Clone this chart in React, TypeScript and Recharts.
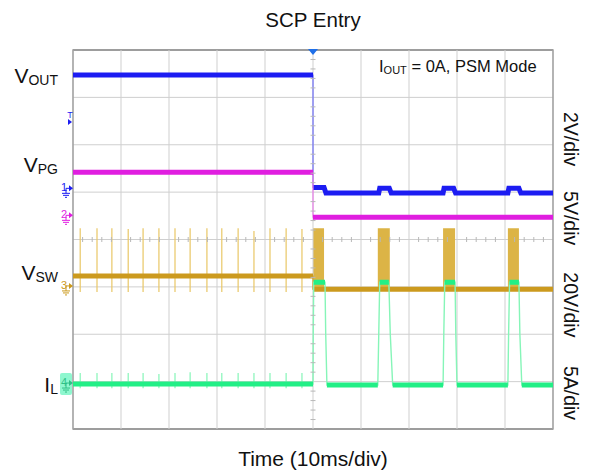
import React from 'react';
import { ComposedChart, Line, Area, Scatter, XAxis, YAxis, CartesianGrid, ReferenceArea, ReferenceLine } from 'recharts';

const FONT = '"Liberation Sans", Arial, sans-serif';

const BLUE = '#1c1cf2';
const MAGENTA = '#e01ee0';
const GOLD = '#cc9a1e';
const GOLD_LIGHT = '#e9c766';
const GOLD_FILL = '#dcb446';
const GREEN = '#22ef86';
const GREEN_LIGHT = '#86f5b8';

// time in ms (10 ms/div), values in screen divisions (0 = bottom, 8 = top)
const timeGrid = [-50, -40, -30, -20, -10, 0, 10, 20, 30, 40, 50];
const divGrid = [0, 1, 2, 3, 4, 5, 6, 7, 8];

const leftLabels = [
  { main: 'V', sub: 'OUT' },
  { main: 'V', sub: 'PG' },
  { main: 'V', sub: 'SW' },
  { main: 'I', sub: 'L' },
];
const leftLabelPos = [7.45, 5.57, 3.29, 0.93];
const scaleLabels = ['2V/div', '5V/div', '20V/div', '5A/div'];
const scaleLabelPos = [6.12, 4.45, 2.62, 0.76];

// v = full trace (thin), w = settled levels (thick), null at fast edges
const vout = [
  { t: -50, v: 7.47, w: 7.47 },
  { t: 0, v: 7.47, w: 7.47 },
  { t: 0, v: 6.3, w: null },
  { t: 0, v: 5.1, w: 5.1 },
  { t: 2.3, v: 5.1, w: 5.1 },
  { t: 2.7, v: 4.98, w: 4.98 },
  { t: 13.7, v: 4.98, w: 4.98 },
  { t: 13.9, v: 5.08, w: 5.08 },
  { t: 15.9, v: 5.08, w: 5.08 },
  { t: 16.3, v: 4.98, w: 4.98 },
  { t: 27.1, v: 4.98, w: 4.98 },
  { t: 27.3, v: 5.08, w: 5.08 },
  { t: 29.3, v: 5.08, w: 5.08 },
  { t: 29.7, v: 4.98, w: 4.98 },
  { t: 40.6, v: 4.98, w: 4.98 },
  { t: 40.8, v: 5.08, w: 5.08 },
  { t: 42.9, v: 5.08, w: 5.08 },
  { t: 43.3, v: 4.98, w: 4.98 },
  { t: 50, v: 4.98, w: 4.98 },
];

const vpg = [
  { t: -50, v: 5.42, w: 5.42 },
  { t: 0, v: 5.42, w: 5.42 },
  { t: 0, v: 5.0, w: null },
  { t: 0, v: 4.47, w: 4.47 },
  { t: 50, v: 4.47, w: 4.47 },
];

const vsw = [
  { t: -50, v: 3.23, w: 3.23 },
  { t: 0, v: 3.23, w: 3.23 },
  { t: 0, v: 3.1, w: null },
  { t: 0, v: 2.95, w: 2.95 },
  { t: 50, v: 2.95, w: 2.95 },
];

// switching bursts after SCP entry (top of burst envelope)
const vswBursts = [
  { t: 0, v: 4.24 },
  { t: 2.3, v: 4.24 },
  { t: 2.3, v: 2.95 },
  { t: 13.5, v: 2.95 },
  { t: 13.5, v: 4.24 },
  { t: 16.0, v: 4.24 },
  { t: 16.0, v: 2.95 },
  { t: 27.1, v: 2.95 },
  { t: 27.1, v: 4.24 },
  { t: 29.6, v: 4.24 },
  { t: 29.6, v: 2.95 },
  { t: 40.6, v: 2.95 },
  { t: 40.6, v: 4.24 },
  { t: 42.9, v: 4.24 },
  { t: 42.9, v: 2.95 },
];

// PSM pulses before the short
const spikeTimes = [-48.5, -45.0, -41.9, -38.5, -35.4, -32.1, -28.75, -25.6, -22.1, -19.0, -15.6, -12.3, -8.96, -5.6, -2.3];
const swSpikeTops = [4.24, 4.24, 4.24, 4.22, 4.24, 4.24, 4.24, 4.24, 4.24, 4.24, 4.24, 4.18, 4.24, 4.24, 4.22];
const swSpikeBottoms = [2.89, 2.89, 2.89, 2.89, 2.89, 2.89, 2.89, 2.89, 2.89, 2.89, 2.89, 2.89, 2.89, 2.89, 2.89];
const ilSpikeTops = [1.18, 1.18, 1.18, 1.18, 1.18, 1.16, 1.18, 1.2, 1.18, 1.18, 1.18, 1.18, 1.18, 1.18, 1.18];
const ilSpikeBottoms = [0.86, 0.86, 0.86, 0.86, 0.86, 0.86, 0.86, 0.86, 0.86, 0.86, 0.86, 0.86, 0.86, 0.86, 0.86];

const il = [
  { t: -50, v: 0.95, w: 0.95 },
  { t: 0, v: 0.95, w: 0.95 },
  { t: 0.05, v: 2.0, w: null },
  { t: 0.15, v: 3.1, w: 3.1 },
  { t: 2.5, v: 3.1, w: 3.1 },
  { t: 2.65, v: 2.0, w: null },
  { t: 2.9, v: 0.93, w: 0.93 },
  { t: 13.5, v: 0.93, w: 0.93 },
  { t: 13.7, v: 2.0, w: null },
  { t: 13.9, v: 3.1, w: 3.1 },
  { t: 15.8, v: 3.1, w: 3.1 },
  { t: 16.1, v: 2.0, w: null },
  { t: 16.6, v: 0.93, w: 0.93 },
  { t: 27.1, v: 0.93, w: 0.93 },
  { t: 27.25, v: 2.0, w: null },
  { t: 27.45, v: 3.1, w: 3.1 },
  { t: 29.6, v: 3.1, w: 3.1 },
  { t: 29.75, v: 2.0, w: null },
  { t: 30.0, v: 0.93, w: 0.93 },
  { t: 40.6, v: 0.93, w: 0.93 },
  { t: 40.75, v: 2.0, w: null },
  { t: 40.95, v: 3.1, w: 3.1 },
  { t: 42.9, v: 3.1, w: 3.1 },
  { t: 43.1, v: 2.0, w: null },
  { t: 43.5, v: 0.93, w: 0.93 },
  { t: 50, v: 0.93, w: 0.93 },
];

const channelMarks = [
  { t: -50, v: 6.48, label: 'T', color: BLUE, ground: false },
  { t: -50, v: 5.08, label: '1', color: BLUE, ground: true },
  { t: -50, v: 4.51, label: '2', color: MAGENTA, ground: true },
  { t: -50, v: 3.02, label: '3', color: GOLD, ground: true },
  { t: -50, v: 0.97, label: '4', color: '#2fbf86', ground: true, box: true },
];

const hMinor = Array.from({ length: 49 }, (_, i) => -48 + i * 2).filter((t) => t % 10 !== 0).map((t) => ({ t, v: 4 }));
const vMinor = Array.from({ length: 39 }, (_, i) => 0.2 + i * 0.2).filter((v) => Math.abs(v - Math.round(v)) > 0.01).map((v) => ({ t: 0, v }));

const spikeRows = (tops: number[], bottoms: number[]) =>
  spikeTimes.flatMap((t, i) => [
    { t, s: bottoms[i] },
    { t, s: tops[i] },
    { t, s: null },
  ]);

// left axis carries both the channel names (left) and the scale labels (right edge)
const LabelTick = (props: any) => {
  const value = props.payload.value;
  const i = leftLabelPos.indexOf(value);
  if (i >= 0) {
    const lab = leftLabels[i];
    return (
      <text x={58} y={props.y + 7} textAnchor="end" fontFamily={FONT} fill="#111">
        <tspan fontSize={21}>{lab.main}</tspan>
        <tspan fontSize={14} dy={2}>{lab.sub}</tspan>
      </text>
    );
  }
  const j = scaleLabelPos.indexOf(value);
  if (j < 0) return null;
  return (
    <text
      transform={`translate(571, ${props.y}) rotate(90)`}
      textAnchor="middle"
      dominantBaseline="central"
      fontFamily={FONT}
      fontSize={19.5}
      fill="#111"
    >
      {scaleLabels[j]}
    </text>
  );
};

const HTick = (p: any) => <line x1={p.cx} x2={p.cx} y1={p.cy - 2.5} y2={p.cy + 2.5} stroke="#b8b8b8" strokeWidth={1} />;
const VTick = (p: any) => <line x1={p.cx - 2.5} x2={p.cx + 2.5} y1={p.cy} y2={p.cy} stroke="#b8b8b8" strokeWidth={1} />;

const TrigMark = (p: any) => (
  <path d={`M${p.cx - 5},${p.cy - 1} L${p.cx + 5},${p.cy - 1} L${p.cx},${p.cy + 5} Z`} fill="#1f6fe8" />
);

const ChannelMark = (p: any) => {
  const { cx, cy, payload } = p;
  const c = payload.color;
  if (!payload.ground) {
    return (
      <g>
        <text x={cx - 3} y={cy - 4} fontSize={9} fontFamily={FONT} fill={c} textAnchor="middle">T</text>
        <path d={`M${cx - 5},${cy - 3} L${cx - 1},${cy} L${cx - 5},${cy + 3} Z`} fill={c} />
      </g>
    );
  }
  return (
    <g>
      {payload.box && <rect x={cx - 13} y={cy - 10} width={12} height={22} rx={2} fill="#8ff7cf" />}
      <text x={cx - 9} y={cy + 3} fontSize={11} fontFamily={FONT} fill={c} textAnchor="middle">{payload.label}</text>
      <line x1={cx - 7} x2={cx - 2} y1={cy} y2={cy} stroke={c} strokeWidth={1} />
      <path d={`M${cx - 4},${cy - 3} L${cx},${cy} L${cx - 4},${cy + 3} Z`} fill={c} />
      <line x1={cx - 7} x2={cx - 7} y1={cy} y2={cy + 5} stroke={c} strokeWidth={1} />
      <line x1={cx - 11} x2={cx - 3} y1={cy + 5} y2={cy + 5} stroke={c} strokeWidth={1} />
      <line x1={cx - 10} x2={cx - 4} y1={cy + 7} y2={cy + 7} stroke={c} strokeWidth={1} />
      <line x1={cx - 8} x2={cx - 6} y1={cy + 9} y2={cy + 9} stroke={c} strokeWidth={1} />
    </g>
  );
};

export default function App() {
  return (
    <div style={{ position: 'absolute', left: 0, top: 0, width: 593, height: 472, background: '#fff', fontFamily: FONT }}>
      <div style={{ position: 'absolute', left: 73, width: 480, top: 8, textAlign: 'center', fontSize: 20.5, color: '#111' }}>
        SCP Entry
      </div>
      <ComposedChart width={593} height={472} margin={{ top: 50, right: 40, bottom: 0, left: 0 }}>
        <XAxis
          type="number"
          dataKey="t"
          domain={[-50, 50]}
          ticks={timeGrid}
          tick={false}
          tickLine={false}
          axisLine={false}
          height={43}
        />
        <YAxis
          yAxisId="left"
          type="number"
          domain={[0, 8]}
          ticks={[...leftLabelPos, ...scaleLabelPos]}
          interval={0}
          width={73}
          tick={<LabelTick />}
          tickLine={false}
          axisLine={false}
        />
        <CartesianGrid
          yAxisId="left"
          stroke="#cfcfcf"
          strokeWidth={1}
          vertical={false}
          horizontalValues={divGrid}
        />
        {timeGrid.map((t) => (
          <ReferenceLine key={t} yAxisId="left" x={t} stroke="#cfcfcf" strokeWidth={1} />
        ))}
        <Scatter yAxisId="left" data={hMinor} dataKey="v" shape={<HTick />} isAnimationActive={false} />
        <Scatter yAxisId="left" data={vMinor} dataKey="v" shape={<VTick />} isAnimationActive={false} />
        <ReferenceArea yAxisId="left" x1={-50} x2={50} y1={0} y2={8} fill="none" stroke="#555" strokeWidth={1.2} />

        <Line yAxisId="left" data={spikeRows(swSpikeTops, swSpikeBottoms)} dataKey="s" stroke={GOLD_LIGHT} strokeWidth={1.2} dot={false} isAnimationActive={false} />
        <Line yAxisId="left" data={spikeRows(ilSpikeTops, ilSpikeBottoms)} dataKey="s" stroke={GREEN_LIGHT} strokeWidth={1.2} dot={false} isAnimationActive={false} />

        <Line yAxisId="left" data={vout} dataKey="v" stroke="#6f6ff7" strokeWidth={1.2} dot={false} isAnimationActive={false} />
        <Line yAxisId="left" data={vout} dataKey="w" stroke={BLUE} strokeWidth={5} dot={false} isAnimationActive={false} />
        <Line yAxisId="left" data={vpg} dataKey="v" stroke="#ea7fea" strokeWidth={1.2} dot={false} isAnimationActive={false} />
        <Line yAxisId="left" data={vpg} dataKey="w" stroke={MAGENTA} strokeWidth={5} dot={false} isAnimationActive={false} />

        <Area yAxisId="left" data={vswBursts} dataKey="v" baseValue={2.95} type="linear" stroke="none" fill={GOLD_FILL} fillOpacity={1} dot={false} isAnimationActive={false} />
        <Line yAxisId="left" data={vsw} dataKey="v" stroke={GOLD} strokeWidth={1.2} dot={false} isAnimationActive={false} />
        <Line yAxisId="left" data={vsw} dataKey="w" stroke={GOLD} strokeWidth={5} dot={false} isAnimationActive={false} />

        <Line yAxisId="left" data={il} dataKey="v" stroke={GREEN_LIGHT} strokeWidth={1.4} dot={false} isAnimationActive={false} />
        <Line yAxisId="left" data={il} dataKey="w" stroke={GREEN} strokeWidth={5} dot={false} isAnimationActive={false} />

        <Scatter yAxisId="left" data={[{ t: 0, v: 8 }]} dataKey="v" shape={<TrigMark />} isAnimationActive={false} />
        <Scatter yAxisId="left" data={channelMarks} dataKey="v" shape={<ChannelMark />} isAnimationActive={false} />
      </ComposedChart>
      <div style={{ position: 'absolute', left: 379, top: 57, fontSize: 16.5, color: '#111', whiteSpace: 'nowrap' }}>
        I<span style={{ fontSize: 11, verticalAlign: -2 }}>OUT</span> = 0A, PSM Mode
      </div>
      <div style={{ position: 'absolute', left: 73, width: 480, top: 447, textAlign: 'center', fontSize: 21, color: '#111' }}>
        Time (10ms/div)
      </div>
    </div>
  );
}
